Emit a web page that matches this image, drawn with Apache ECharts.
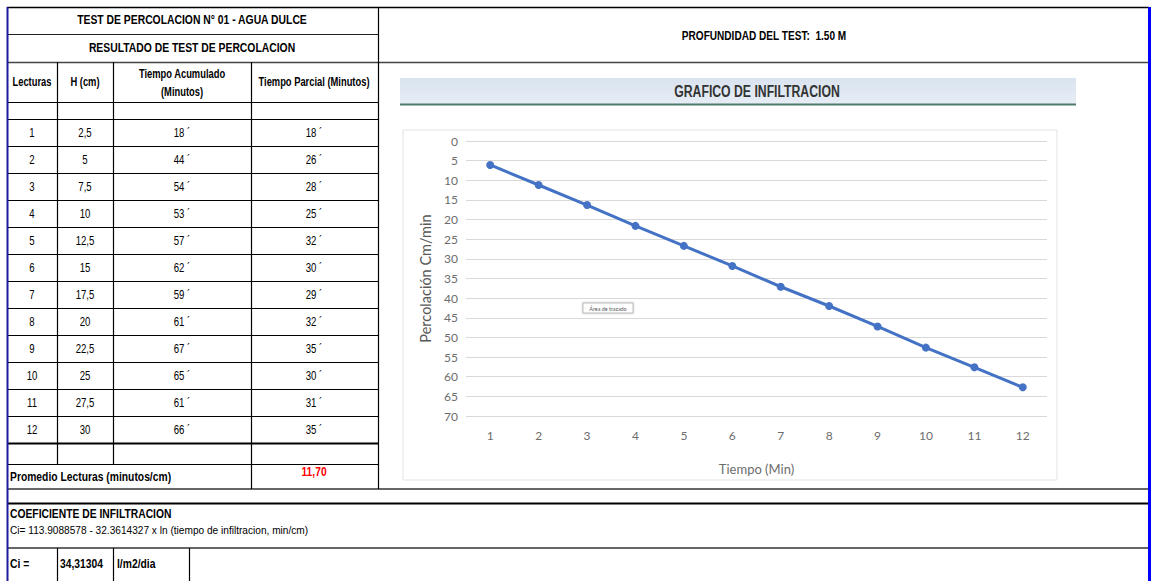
<!DOCTYPE html>
<html><head><meta charset="utf-8">
<script src="https://cdn.jsdelivr.net/npm/echarts@6/dist/echarts.min.js"></script>
<style>html,body{margin:0;padding:0;background:#fff;}#c{width:1152px;height:581px;}</style>
</head><body><div id="c"></div>
<script>
// ---- data ----
const lecturas = [1,2,3,4,5,6,7,8,9,10,11,12];
const hCm = ['2,5','5','7,5','10','12,5','15','17,5','20','22,5','25','27,5','30'];
const tiempoAcumulado = [18,44,54,53,57,62,59,61,67,65,61,66];
const tiempoParcial = [18,26,28,25,32,30,29,32,35,30,31,35];
const percolacion = [6.1,11.2,16.3,21.6,26.7,31.8,37.1,42.0,47.2,52.6,57.6,62.7];
const xTicks = ['1','2','3','4','5','6','7','8','9','10','11','12'];
const headers = ['Lecturas','H (cm)','Tiempo Acumulado\n(Minutos)','Tiempo Parcial (Minutos)'];
const promedio = '11,70';
const ciValue = '34,31304';

// ---- layout ----
const NF = "'Liberation Sans','Arial',sans-serif";
const CF = "Lato,'Open Sans',sans-serif";
const rowTop = 119, rowH = 27;
const G = [];
function hl(x1,x2,y,w,c){G.push({type:'line',silent:true,shape:{x1:x1,y1:y,x2:x2,y2:y},style:{stroke:c||'#000',lineWidth:w||1}});}
function vl(x,y1,y2,w,c){G.push({type:'line',silent:true,shape:{x1:x,y1:y1,x2:x,y2:y2},style:{stroke:c||'#000',lineWidth:w||1}});}
function tx(t,x,y,font,align,fill,sx){G.push({type:'text',silent:true,x:x,y:y,scaleX:(sx===undefined?0.8:sx),style:{text:t,font:font,fill:fill||'#000',align:align||'center',verticalAlign:'middle',textAlign:align||'center',textVerticalAlign:'middle'}});}

// chart decorations (behind)
G.push({type:'rect',silent:true,shape:{x:403,y:130,width:654,height:350},style:{fill:'#fff',stroke:'#e3e3e3',lineWidth:1}});
G.push({type:'rect',silent:true,shape:{x:400,y:78,width:676,height:26},style:{fill:new echarts.graphic.LinearGradient(0,0,0,1,[{offset:0,color:'#d9e3ef'},{offset:1,color:'#e6edf5'}])}});
hl(400,1076,104.5,2,'#4e7a6c');
tx('GRAFICO DE INFILTRACION',757,91,"bold 17px "+NF,'center','#333',0.72);
G.push({type:'rect',silent:true,shape:{x:583,y:303,width:50,height:10},style:{fill:'#fff',stroke:'#aaa',lineWidth:0.8,shadowBlur:2,shadowColor:'rgba(0,0,0,0.25)'}});
tx('Área de trazado',608,308.5,"6px "+CF,'center','#555',0.9);

// borders and grid of the table
hl(7,1149,7.5,1.5);
hl(7,378,34.5,1.2,'#222');
hl(7,1149,62.5,1.5,'#444');
hl(7,378,102.5,1.2);
hl(7,378,119.5,1.2);
for(let i=1;i<=12;i++){ hl(7,378,rowTop+rowH*i+0.5,i===12?2:1.2); }
hl(7,378,464.5,1.2);
hl(7,1149,489,1.5,'#333');
hl(7,1149,503.5,2);
hl(7,1149,548,1.5,'#333');
vl(57.5,62,464,1.2); vl(113.5,62,464,1.2); vl(251.5,62,489,1.2); vl(378.5,7,489,1.2);
vl(57.5,548,581,1.2); vl(113.5,548,581,1.2); vl(189.5,548,581,1.2);
vl(7.5,7,581,2,'#1c1c9c');
vl(1149.5,7,581,3,'#0000ff');

// table text
tx('TEST DE PERCOLACION N° 01 - AGUA DULCE',192,20,"bold 12.5px "+NF,'center','#000',0.83);
tx('RESULTADO DE TEST DE PERCOLACION',192,48,"bold 12.5px "+NF,'center','#000',0.83);
tx('PROFUNDIDAD DEL TEST:  1.50 M',764,36,"bold 12px "+NF,'center','#000',0.84);
const hx=[32,85,182,314];
tx(headers[0],hx[0],82,"bold 12px "+NF,'center','#000',0.78);
tx(headers[1],hx[1],82,"bold 12px "+NF,'center','#000',0.78);
tx(headers[2].split('\n')[0],hx[2],74,"bold 12px "+NF,'center','#000',0.78);
tx(headers[2].split('\n')[1],hx[2],92,"bold 12px "+NF,'center','#000',0.78);
tx(headers[3],hx[3],82,"bold 12px "+NF,'center','#000',0.78);
for(let i=0;i<12;i++){
  const y=rowTop+rowH*i+13.5;
  tx(String(lecturas[i]),32,y,"12px "+NF);
  tx(hCm[i],85,y,"12px "+NF);
  tx(tiempoAcumulado[i]+' ´',182,y,"12px "+NF);
  tx(tiempoParcial[i]+' ´',314,y,"12px "+NF);
}
tx('Promedio Lecturas (minutos/cm)',10,477,"bold 12px "+NF,'left','#000',0.86);
tx(promedio,314,472,"bold 12px "+NF,'center','#ff0000',0.86);
tx('COEFICIENTE DE INFILTRACION',10,514,"bold 12px "+NF,'left','#000',0.86);
tx('Ci= 113.9088578 - 32.3614327 x ln (tiempo de infiltracion, min/cm)',10,530,"11.5px "+NF,'left','#000',0.88);
tx('Ci =',10,564,"bold 12px "+NF,'left','#000',0.86);
tx(ciValue,60,564,"bold 12px "+NF,'left','#000',0.86);
tx('l/m2/dia',117,564,"bold 12px "+NF,'left','#000',0.86);

const chart = echarts.init(document.getElementById('c'),null,{renderer:'svg'});
chart.setOption({
  animation:false,
  backgroundColor:'#fff',
  graphic:{elements:G},
  grid:{left:466,right:105,top:141,bottom:165,containLabel:false},
  xAxis:{type:'category',data:xTicks,boundaryGap:true,
    name:'Tiempo (Min)',nameLocation:'middle',nameGap:46,
    nameTextStyle:{color:'#6d6d6d',fontSize:13,fontFamily:CF},
    axisLine:{show:false},axisTick:{show:false},
    axisLabel:{color:'#6d6d6d',fontSize:12,fontFamily:CF,margin:13}},
  yAxis:{type:'value',inverse:true,min:0,max:70,interval:5,
    name:'Percolación Cm/min',nameLocation:'middle',nameGap:33,nameRotate:90,
    nameTextStyle:{color:'#595959',fontSize:14.5,fontFamily:CF},
    axisLine:{show:false},axisTick:{show:false},
    axisLabel:{color:'#6d6d6d',fontSize:12,fontFamily:CF,margin:8},
    splitLine:{lineStyle:{color:'#d9d9d9',width:1}}},
  series:[{type:'line',data:percolacion,symbol:'circle',symbolSize:8,
    lineStyle:{color:'#4472c4',width:3},itemStyle:{color:'#4472c4'}}]
});
</script></body></html>
